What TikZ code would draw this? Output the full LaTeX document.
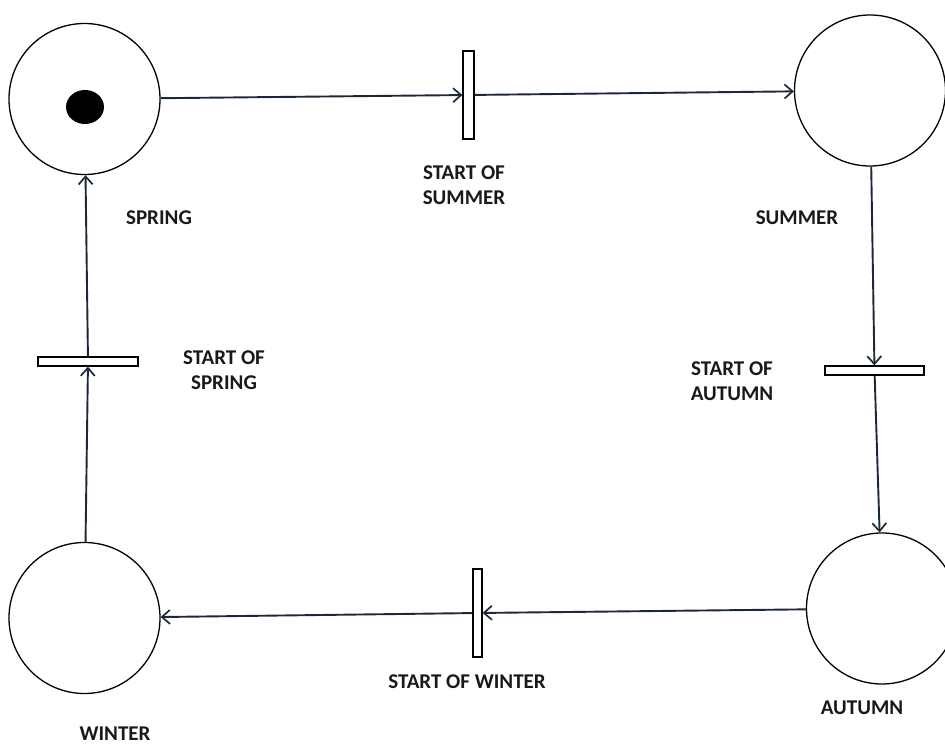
\documentclass[tikz,border=0pt]{standalone}
\usepackage{fontspec}
\setmainfont{Carlito}
\usetikzlibrary{arrows.meta,shapes.geometric}
\definecolor{wire}{HTML}{1B2838}
\tikzset{
  place/.style={circle, draw=black, line width=1.3pt, minimum size=151pt, inner sep=0pt},
  trans/.style={rectangle, draw=black, line width=1.2pt, fill=white, inner sep=0pt},
  arc/.style={draw=wire, line width=1.9pt, -{Straight Barb[length=8pt,width=14pt,line width=1.7pt]}},
  lbl/.style={font=\bfseries\fontsize{21}{25}\selectfont, align=center, inner sep=0pt, text=black!90},
  token/.style={ellipse, fill=black, minimum width=38pt, minimum height=34pt, inner sep=0pt}
}
\begin{document}
\begin{tikzpicture}[x=1pt, y=-1pt]
  \useasboundingbox (0,0) rectangle (945,746);
  \clip (0,0) rectangle (945,746);

  % places
  \node[place] (spring) at (84.5,99) {};
  \node[place] (summer) at (870,90.5) {};
  \node[place] (autumn) at (882,608.5) {};
  \node[place] (winter) at (84.5,618) {};
  \node[token] (tok) at (85,107) {};

  % transitions
  \node[trans, minimum width=11pt, minimum height=88pt] (tsummer) at (468.5,95) {};
  \node[trans, minimum width=99pt, minimum height=9pt] (tautumn) at (874.5,370.5) {};
  \node[trans, minimum width=9pt, minimum height=88pt] (twinter) at (477.5,613) {};
  \node[trans, minimum width=100pt, minimum height=9pt] (tspring) at (88,361.5) {};

  % arcs
  \draw[arc] (spring) -- (tsummer);
  \draw[arc] (tsummer) -- (summer);
  \draw[arc] (summer) -- (tautumn);
  \draw[arc] (tautumn) -- (autumn);
  \draw[arc] (autumn) -- (twinter);
  \draw[arc] (twinter) -- (winter);
  \draw[arc] (winter) -- (tspring);
  \draw[arc] (tspring) -- (spring);

  % labels
  \node[lbl] (lspring) at (159,218) {SPRING};
  \node[lbl] (lsummer) at (797,218) {SUMMER};
  \node[lbl] (lautumn) at (862,708) {AUTUMN};
  \node[lbl] (lwinter) at (115,734) {WINTER};
  \node[lbl] (ltsummer) at (464,185) {START OF\\SUMMER};
  \node[lbl] (ltspring) at (224,370) {START OF\\SPRING};
  \node[lbl] (ltautumn) at (732,381) {START OF\\AUTUMN};
  \node[lbl] (ltwinter) at (467,682) {START OF WINTER};
\end{tikzpicture}
\end{document}
